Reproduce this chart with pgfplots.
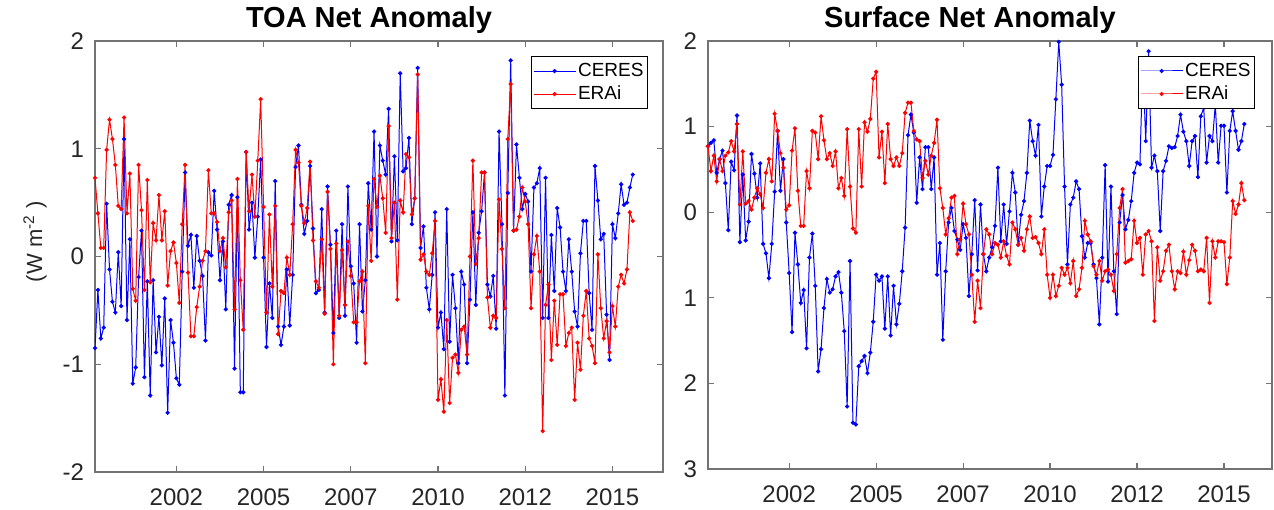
\documentclass[border=0pt]{standalone}
\usepackage{pgfplots}
\pgfplotsset{compat=1.18}
\usepackage{pgfplotstable}
\usepackage{fontspec}
\setmainfont{Liberation Sans}

\pgfplotstableread{
tc te sc se
-0.85 0.73 0.77 0.77
-0.31 0.40 0.81 0.48
-0.76 0.08 0.84 0.66
-0.66 0.08 0.46 0.36
0.49 0.99 0.62 0.62
-0.12 1.27 0.72 0.48
-0.42 1.09 0.34 0.66
-0.52 0.85 -0.21 0.70
0.04 0.47 0.59 0.83
-0.46 0.44 0.49 0.71
1.09 1.29 1.13 1.03
-0.59 0.40 -0.35 0.09
0.16 0.77 0.44 0.71
-1.18 -0.30 -0.33 0.10
-1.03 -0.41 -0.11 0.13
-0.19 0.85 0.68 0.03
0.24 0.43 0.45 0.17
-1.12 -0.31 0.17 0.28
-0.23 0.71 0.57 0.21
-1.29 -0.24 -0.37 0.05
-0.22 0.31 -0.48 0.46
-0.89 0.15 -0.77 0.62
-0.56 0.57 -0.37 0.36
-1.01 0.15 0.24 1.15
-0.39 0.42 0.95 0.95
-1.45 -0.27 0.25 0.69
-0.59 0.05 0.62 0.52
-0.80 0.13 -0.12 0.03
-1.13 -0.06 -0.71 0.08
-1.19 -0.43 -1.40 0.72
-0.14 0.30 -0.24 0.98
0.78 0.85 -0.61 0.25
0.10 -0.15 -1.06 -0.16
0.20 -0.74 -0.91 -0.16
-0.29 -0.74 -1.59 0.48
0.19 -0.47 -0.53 0.28
-0.04 -0.28 -0.25 0.95
-0.18 -0.04 -0.86 0.93
-0.78 0.05 -1.86 0.62
0.04 0.80 -1.60 1.12
0.01 0.40 -1.12 0.84
0.61 0.40 -0.78 0.62
0.25 0.32 -0.94 0.69
-0.22 0.05 -0.90 0.54
0.14 0.17 -0.75 0.71
-0.49 -0.10 -0.70 0.28
0.48 0.41 -0.94 0.40
0.57 0.52 -1.39 0.19
-1.04 -0.49 -2.27 0.97
0.55 0.72 -0.57 0.30
-1.26 -0.22 -2.46 -0.19
-1.26 -0.68 -2.48 -0.24
0.97 0.97 -1.80 0.97
0.25 0.42 -1.74 0.30
0.50 0.76 -1.68 1.05
-0.01 0.37 -1.88 0.94
0.37 0.89 -1.64 1.09
0.90 1.46 -1.28 1.56
-0.01 0.46 -0.73 1.64
-0.84 -0.52 -0.80 0.64
-0.25 0.39 -0.75 0.94
-0.57 -0.28 -1.36 0.34
0.70 0.47 -0.75 1.03
-0.65 -0.72 -1.44 0.62
-0.82 -0.32 -0.86 0.54
-0.65 -0.34 -1.31 0.64
-0.12 -0.01 -1.07 0.54
-0.64 -0.17 -0.69 0.69
-0.17 0.30 -0.18 1.16
0.83 0.99 0.90 1.28
1.03 0.87 1.14 1.28
0.48 0.47 0.93 0.95
0.21 0.31 0.11 0.85
0.33 0.45 0.64 0.83
0.84 0.88 0.27 0.40
0.26 0.15 0.76 0.60
-0.34 -0.23 0.76 0.44
-0.31 -0.29 0.27 0.66
0.44 0.16 0.64 0.81
-0.52 -0.53 -0.73 1.08
0.65 0.60 -0.36 0.28
0.11 0.07 -1.49 0.05
-0.71 -1.00 -0.69 -0.26
0.24 0.12 -0.12 -0.07
-0.57 -0.55 0.05 0.17
0.30 0.06 -0.22 0.19
-0.55 -0.45 -0.32 -0.49
0.65 0.14 -0.44 -0.32
-0.09 -0.18 -0.14 0.10
-0.25 -0.61 -0.30 -0.14
-0.80 -0.61 -0.98 -0.26
0.30 -0.23 -0.49 -0.73
-0.51 -0.14 0.14 -1.28
-0.22 -0.99 -0.68 -0.80
0.68 0.47 0.09 -1.12
0.25 -0.04 -0.49 -0.49
1.16 0.72 -0.69 -0.20
0.00 0.46 -0.53 -0.26
1.03 0.75 -0.41 -0.49
0.89 0.54 -0.16 -0.36
0.76 0.22 0.52 -0.38
1.37 1.21 -0.34 -0.53
0.14 0.17 0.09 -0.34
0.93 0.50 -0.37 -0.51
0.15 -0.40 0.01 -0.61
1.70 0.52 0.46 -0.12
0.79 0.41 0.23 -0.20
0.82 0.95 -0.38 -0.38
1.10 0.92 -0.03 -0.30
0.30 0.39 0.13 -0.45
0.54 0.54 0.46 -0.20
1.75 1.69 1.07 -0.05
0.08 -0.03 0.83 -0.30
0.28 0.02 0.66 -0.29
-0.29 -0.14 1.02 -0.36
-0.49 -0.17 -0.05 -0.49
-0.17 0.03 0.30 -0.20
0.41 0.33 0.54 -0.73
-0.66 -1.33 0.54 -1.00
-0.52 -1.14 0.67 -0.73
-0.86 -1.44 1.32 -0.98
0.44 -0.59 1.99 -0.86
-0.79 -1.36 1.49 -0.65
-0.17 -0.94 0.30 -0.73
-0.48 -0.91 -0.61 -0.65
-0.99 -1.08 0.09 -0.83
-0.14 -0.68 0.17 -0.57
-0.26 -0.65 0.36 -0.98
-0.99 -0.91 0.27 -0.90
-0.40 0.00 -0.28 -0.65
0.41 0.89 -0.53 -0.10
-0.45 -0.07 -0.36 -0.26
0.22 0.17 -0.36 -0.34
0.42 0.78 -0.61 -0.63
0.78 0.78 -0.77 -0.73
-0.26 -0.38 -1.31 -0.57
-0.37 -0.66 -0.53 -0.80
-0.18 -0.55 0.55 -0.69
-0.67 -0.57 -0.81 -0.67
1.16 0.53 0.30 -0.73
0.30 0.07 -0.69 -0.92
-1.29 -0.48 -1.19 -0.49
0.59 1.09 -0.12 0.05
1.82 1.60 0.20 0.27
0.24 0.24 -0.20 -0.59
1.04 0.25 -0.09 -0.57
0.73 0.37 0.13 -0.55
0.44 0.64 0.46 -0.10
0.58 0.51 0.58 -0.36
0.51 0.30 0.56 -0.30
-0.14 -0.48 1.77 -0.73
0.64 0.02 0.83 -0.26
0.68 0.19 1.88 -0.22
0.82 -0.14 0.52 -0.34
-0.57 -1.62 0.66 -1.27
0.73 -0.45 0.48 -0.41
-0.57 -0.26 -0.22 -0.80
0.20 -0.96 0.48 -0.69
-0.32 -0.41 0.60 -0.45
0.45 -0.82 0.77 -0.38
0.27 -0.35 0.75 -0.69
-0.14 -0.35 0.76 -0.90
-0.32 -0.83 0.89 -0.69
0.16 -0.71 1.14 -0.71
-0.14 -0.66 0.94 -0.46
-0.51 -1.33 0.83 -0.73
-0.65 -0.80 0.54 -0.56
0.03 -1.05 0.83 -0.38
0.33 -0.55 0.89 -0.45
0.33 -0.32 0.41 -0.69
-0.34 -0.76 1.12 -0.67
-0.68 -0.83 1.22 -0.69
0.84 -0.99 0.58 -0.30
0.52 0.02 0.89 -1.06
0.16 -0.48 0.83 -0.34
0.21 -0.76 1.26 -0.53
-0.54 -0.60 0.58 -0.34
-0.96 -0.89 1.01 -0.34
0.30 -0.46 1.01 -0.35
0.17 -0.65 0.23 -0.84
0.40 -0.28 0.95 -0.53
0.67 -0.17 1.18 0.13
0.48 -0.25 0.95 -0.02
0.50 -0.12 0.73 0.09
0.64 0.41 0.83 0.34
0.76 0.33 1.03 0.14
}\datatable

\definecolor{axgray}{gray}{0.45}
\definecolor{lblgray}{gray}{0.15}

\pgfplotsset{
  myax/.style={
    scale only axis,
    xmin=2000.1667,
    tick align=inside,
    major tick length=3pt,
    axis line style={axgray, line width=0.6pt},
    tick style={axgray, line width=0.6pt},
    xtick={2002.5,2005,2007.5,2010,2012.5,2015},
    xticklabels={2002,2005,2007,2010,2012,2015},
    tick label style={font=\fontsize{12}{14}\selectfont, text=lblgray},
    xticklabel style={yshift=-5pt},
    yticklabel style={xshift=-2pt},
    title style={at={(axis description cs:0.5,1)}, anchor=base, yshift=1pt, font=\bfseries\fontsize{14.5}{17}\selectfont},
    legend cell align=left,
    legend style={font=\fontsize{9.5}{11}\selectfont, draw=black, line width=0.5pt, fill=white,
      inner xsep=1pt, inner ysep=2pt, nodes={inner sep=1pt, text height=7pt, text depth=1.5pt},
      row sep=1pt, anchor=north east},
    legend image code/.code={\draw[mark repeat=2,mark phase=2] plot coordinates {(0pt,0pt)(10.5pt,0pt)(21pt,0pt)};},
    scaled ticks=false,
  },
  cer/.style={blue, line width=0.5pt, mark=*, mark size=0.8pt, mark options={solid}},
  era/.style={red, line width=0.5pt, mark=*, mark size=0.8pt, mark options={solid}},
}

\begin{document}
\begin{tikzpicture}
\path[use as bounding box] (-47.5pt,-18.5pt) rectangle (589.5pt,236pt);

\begin{axis}[myax, at={(0pt,0pt)}, anchor=south west,
  width=284pt, height=215.5pt, xmax=2016.45,
  ymin=-2, ymax=2, ytick={-2,-1,0,1,2}, yticklabels={-2,-1,0,1,2},
  title={TOA Net Anomaly}, title style={xshift=-5pt},
  ylabel={(W m\textsuperscript{-2} )},
  ylabel style={at={(axis description cs:-0.1056,0.534)}, anchor=center, font=\fontsize{11}{13}\selectfont, text=lblgray},
  legend style={at={(0.9736,0.965)}}]
\addplot[cer] table[x expr=2000.1667+\coordindex/12, y=tc]{\datatable};
\addplot[era] table[x expr=2000.1667+\coordindex/12, y=te]{\datatable};
\legend{CERES,ERAi}
\end{axis}

\begin{axis}[myax, at={(306.5pt,1.5pt)}, anchor=south west,
  width=282pt, height=214pt, xmax=2016.38,
  ymin=-3, ymax=2, ytick={-3,-2,-1,0,1,2}, yticklabels={3,2,1,0,1,2},
  title={Surface Net Anomaly}, title style={xshift=-10pt},
  legend style={at={(0.970,0.965)}}]
\addplot[cer] table[x expr=2000.1667+\coordindex/12, y=sc]{\datatable};
\addplot[era] table[x expr=2000.1667+\coordindex/12, y=se]{\datatable};
\legend{CERES,ERAi}
\end{axis}
\end{tikzpicture}
\end{document}
